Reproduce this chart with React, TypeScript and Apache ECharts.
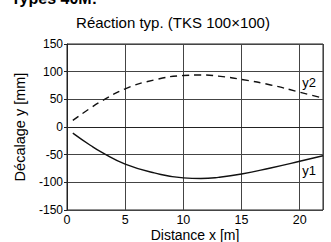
import React, { useEffect, useRef } from "react";
import * as echarts from "echarts";

const xs = [0.5, 2, 3, 5, 7.5, 10, 11.5, 13, 15, 17.5, 20, 22];
const y1 = [-11, -33, -46, -67, -83, -92, -93, -91, -85, -74, -62, -52];
const y2 = [12, 34, 47, 69, 85, 93, 94, 92, 86, 76, 63, 52];
const xTicks = [0, 5, 10, 15, 20];
const yTicks = [-150, -100, -50, 0, 50, 100, 150];
const FONT = "Liberation Sans, Arial, Helvetica, sans-serif";

export default function App() {
  const ref = useRef<HTMLDivElement>(null);
  useEffect(() => {
    document.body.style.margin = "0";
    const chart = echarts.init(ref.current!, null, { renderer: "svg" });
    const pair = (ys: number[]) => xs.map((x, i) => [x, ys[i]]);
    chart.setOption({
      animation: false,
      backgroundColor: "#fff",
      textStyle: { fontFamily: FONT },
      title: [
        {
          text: "Types 40M:",
          left: 6,
          top: -15,
          textStyle: { fontFamily: FONT, fontSize: 16, fontWeight: "bold", color: "#000" },
        },
        {
          text: "Réaction typ. (TKS 100×100)",
          left: 168,
          textAlign: "center",
          top: 10,
          textStyle: { fontFamily: FONT, fontSize: 15, fontWeight: "normal", color: "#000" },
        },
      ],
      grid: {
        left: 67,
        right: 8,
        top: 44,
        bottom: 32,
        outerBoundsMode: "none",
        containLabel: false,
        show: true,
        borderColor: "#222",
        borderWidth: 1,
      },
      xAxis: {
        type: "value",
        min: 0,
        max: 22,
        interval: 5,
        name: "Distance x [m]",
        nameLocation: "middle",
        nameGap: 18,
        nameMoveOverlap: false,
        nameTextStyle: { fontFamily: FONT, fontSize: 14, lineHeight: 14, color: "#000" },
        axisLine: { lineStyle: { color: "#222", width: 1 } },
        axisTick: { show: false },
        axisLabel: {
          fontFamily: FONT,
          fontSize: 12.5,
          lineHeight: 11,
          color: "#000",
          margin: 4,
          customValues: xTicks,
        },
        splitLine: { lineStyle: { color: "#444", width: 1 } },
      },
      yAxis: {
        type: "value",
        min: -150,
        max: 150,
        interval: 50,
        name: "Décalage y [mm]",
        nameLocation: "middle",
        nameGap: 40,
        nameMoveOverlap: false,
        nameTextStyle: { fontFamily: FONT, fontSize: 14.5, color: "#000" },
        axisLine: { lineStyle: { color: "#222", width: 1 } },
        axisTick: { show: true, length: 3, lineStyle: { color: "#222" } },
        axisLabel: {
          fontFamily: FONT,
          fontSize: 12,
          color: "#000",
          margin: 4,
          customValues: yTicks,
        },
        splitLine: { lineStyle: { color: "#444", width: 1 } },
      },
      series: [
        {
          type: "line",
          data: pair(y1),
          smooth: true,
          showSymbol: false,
          lineStyle: { color: "#111", width: 1.4 },
          markPoint: {
            symbol: "circle",
            symbolSize: 0,
            label: { show: true, formatter: "y1", fontFamily: FONT, fontSize: 13, color: "#000" },
            data: [{ coord: [20.8, -78] }],
          },
        },
        {
          type: "line",
          data: pair(y2),
          smooth: true,
          showSymbol: false,
          lineStyle: { color: "#111", width: 1.4, type: [7, 5] },
          markPoint: {
            symbol: "circle",
            symbolSize: 0,
            label: { show: true, formatter: "y2", fontFamily: FONT, fontSize: 13, color: "#000" },
            data: [{ coord: [20.8, 80] }],
          },
        },
      ],
    });
    return () => chart.dispose();
  }, []);
  return <div ref={ref} style={{ width: 331, height: 242 }} />;
}
